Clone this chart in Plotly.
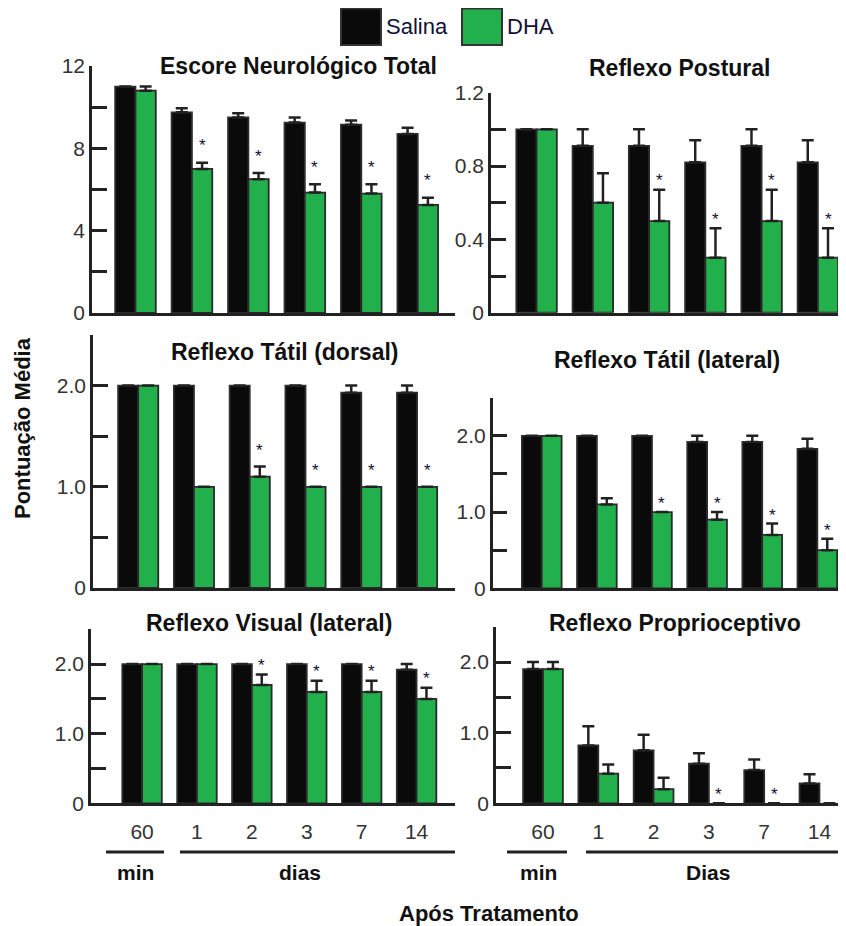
import plotly.graph_objects as go

PAGE_W, PAGE_H = 846, 926
OFF = 8  # default page body margin
W, H = PAGE_W - OFF, PAGE_H - OFF
FONT = "Liberation Sans, Arial, Helvetica, sans-serif"
BLACK = "#0a0a0a"
GREEN = "#21b04b"
DARK = "#222222"

categories = ["60", "1", "2", "3", "7", "14"]

titles = ["Escore Neurológico Total", "Reflexo Postural", "Reflexo Tátil (dorsal)",
          "Reflexo Tátil (lateral)", "Reflexo Visual (lateral)", "Reflexo Proprioceptivo"]

# Escore Neurológico Total
neuro_salina = [11.0, 9.75, 9.5, 9.25, 9.15, 8.7]
neuro_salina_err = [0, 0.2, 0.2, 0.25, 0.2, 0.3]
neuro_dha = [10.8, 7.0, 6.5, 5.85, 5.8, 5.25]
neuro_dha_err = [0.2, 0.3, 0.3, 0.4, 0.45, 0.35]
neuro_sig = [0, 1, 1, 1, 1, 1]

# Reflexo Postural
post_salina = [1.0, 0.91, 0.91, 0.82, 0.91, 0.82]
post_salina_err = [0, 0.09, 0.09, 0.12, 0.09, 0.12]
post_dha = [1.0, 0.6, 0.5, 0.3, 0.5, 0.3]
post_dha_err = [0, 0.16, 0.17, 0.16, 0.17, 0.16]
post_sig = [0, 0, 1, 1, 1, 1]

# Reflexo Tátil (dorsal)
dors_salina = [2.0, 2.0, 2.0, 2.0, 1.93, 1.93]
dors_salina_err = [0, 0, 0, 0, 0.07, 0.07]
dors_dha = [2.0, 1.0, 1.1, 1.0, 1.0, 1.0]
dors_dha_err = [0, 0, 0.1, 0, 0, 0]
dors_sig = [0, 0, 1, 1, 1, 1]

# Reflexo Tátil (lateral)
lat_salina = [2.0, 2.0, 2.0, 1.92, 1.92, 1.83]
lat_salina_err = [0, 0, 0, 0.08, 0.08, 0.13]
lat_dha = [2.0, 1.1, 1.0, 0.9, 0.7, 0.5]
lat_dha_err = [0, 0.08, 0, 0.1, 0.15, 0.15]
lat_sig = [0, 0, 1, 1, 1, 1]

# Reflexo Visual (lateral)
vis_salina = [2.0, 2.0, 2.0, 2.0, 2.0, 1.92]
vis_salina_err = [0, 0, 0, 0, 0, 0.08]
vis_dha = [2.0, 2.0, 1.7, 1.6, 1.6, 1.5]
vis_dha_err = [0, 0, 0.15, 0.16, 0.16, 0.16]
vis_sig = [0, 0, 1, 1, 1, 1]

# Reflexo Proprioceptivo
prop_salina = [1.9, 0.82, 0.75, 0.56, 0.47, 0.28]
prop_salina_err = [0.1, 0.27, 0.22, 0.15, 0.15, 0.13]
prop_dha = [1.9, 0.42, 0.2, 0, 0, 0]
prop_dha_err = [0.1, 0.13, 0.16, 0, 0, 0]
prop_sig = [0, 0, 0, 1, 1, 0]

y_max = [12, 1.2, 2.5, 2.5, 2.5, 2.5]
y_tickvals = [[0, 2, 4, 6, 8, 10, 12], [0, 0.2, 0.4, 0.6, 0.8, 1.0, 1.2],
              [0, 0.5, 1.0, 1.5, 2.0, 2.5], [0, 0.5, 1.0, 1.5, 2.0, 2.5],
              [0, 0.5, 1.0, 1.5, 2.0, 2.5], [0, 0.5, 1.0, 1.5, 2.0, 2.5]]
y_ticktext = [["0", "", "4", "", "8", "", "12"], ["0", "", "0.4", "", "0.8", "", "1.2"],
              ["0", "", "1.0", "", "2.0", ""], ["0", "", "1.0", "", "2.0", ""],
              ["0", "", "1.0", "", "2.0", ""], ["0", "", "1.0", "", "2.0", ""]]

panels = [
    (neuro_salina, neuro_salina_err, neuro_dha, neuro_dha_err, neuro_sig),
    (post_salina, post_salina_err, post_dha, post_dha_err, post_sig),
    (dors_salina, dors_salina_err, dors_dha, dors_dha_err, dors_sig),
    (lat_salina, lat_salina_err, lat_dha, lat_dha_err, lat_sig),
    (vis_salina, vis_salina_err, vis_dha, vis_dha_err, vis_sig),
    (prop_salina, prop_salina_err, prop_dha, prop_dha_err, prop_sig),
]

# layout geometry (page pixels): x0, x1, y_top, y_bottom, x-range
geom = [
    (92, 455, 66, 313, (-0.77, 5.66)),
    (491, 846, 92.7, 312.7, (-0.81, 5.5)),
    (93, 455, 335, 588, (-0.81, 5.68)),
    (492.7, 846, 397.7, 588.3, (-0.89, 5.52)),
    (91, 455, 629.3, 803.3, (-0.93, 5.7)),
    (496, 846, 626.7, 803.3, (-0.85, 5.48)),
]
title_pos = [(298, 66), (680, 68), (284, 352), (667, 360), (269, 623), (675, 623)]
star_shift = [21, 13, 20, 12.5, 13.5, 12.5]

BARGAP = 0.28
green_offset = (1 - BARGAP) / 4

def px(x):
    return (x - OFF) / W

def py(y):
    return 1 - (y - OFF) / H

def err_up(errs):
    return [e if e > 0 else None for e in errs]

def err_down(errs):
    return [0 if e > 0 else None for e in errs]

def outline(vals, w=1.8):
    return [w if v > 0 else 0 for v in vals]

def visible(vals):
    return [1 if v > 0 else 0 for v in vals]

xpos = list(range(len(categories)))

fig = go.Figure()
annotations = []
shapes = []

for i, (sal, sal_e, dha, dha_e, sig) in enumerate(panels):
    n = i + 1
    xa = "x" if n == 1 else f"x{n}"
    ya = "y" if n == 1 else f"y{n}"
    fig.add_trace(go.Bar(
        x=xpos, y=sal, name="Salina", xaxis=xa, yaxis=ya, showlegend=False,
        marker=dict(color=BLACK, opacity=visible(sal),
                    line=dict(color="#2e2e2e", width=outline(sal))),
        error_y=dict(type="data", array=err_up(sal_e), arrayminus=err_down(sal_e),
                     symmetric=False, color=DARK, thickness=2.5, width=6),
        offsetgroup="s",
    ))
    fig.add_trace(go.Bar(
        x=xpos, y=dha, name="DHA", xaxis=xa, yaxis=ya, showlegend=False,
        marker=dict(color=GREEN, opacity=visible(dha),
                    line=dict(color="#2a2a2a", width=outline(dha))),
        error_y=dict(type="data", array=err_up(dha_e), arrayminus=err_down(dha_e),
                     symmetric=False, color=DARK, thickness=2.5, width=6),
        offsetgroup="d",
    ))
    x0, x1, yt, yb, xr = geom[i]
    bottom = i >= 4
    fig.layout[("xaxis" if n == 1 else f"xaxis{n}")] = dict(
        domain=[px(x0), min(1, px(x1))], range=list(xr), anchor=ya,
        showline=True, linewidth=2.5, linecolor=DARK, showgrid=False, zeroline=False,
        tickvals=xpos, ticktext=categories, showticklabels=bottom,
        ticks="outside" if bottom else "", ticklen=8, tickcolor="rgba(0,0,0,0)",
        tickfont=dict(family=FONT, size=21, color="#333333"),
    )
    fig.layout[("yaxis" if n == 1 else f"yaxis{n}")] = dict(
        domain=[py(yb), py(yt)], range=[0, y_max[i]], anchor=xa,
        showline=True, linewidth=2.5, linecolor=DARK, showgrid=False, zeroline=False,
        tickvals=y_tickvals[i], ticktext=y_ticktext[i],
        ticks="inside", ticklen=15, tickwidth=2.5, tickcolor=DARK,
        tickfont=dict(family=FONT, size=21, color="#333333"),
    )
    tx, ty = title_pos[i]
    annotations.append(dict(
        text=f"<b>{titles[i]}</b>", x=px(tx), y=py(ty), xref="paper", yref="paper",
        showarrow=False, xanchor="center", yanchor="middle",
        font=dict(family=FONT, size=23, color="#111111"),
    ))
    for k, s in enumerate(sig):
        if s:
            annotations.append(dict(
                text="*", x=xpos[k] + green_offset, y=dha[k] + dha_e[k], xref=xa, yref=ya,
                showarrow=False, xanchor="center", yanchor="middle", yshift=star_shift[i] - 4,
                font=dict(family=FONT, size=17, color="#111133"),
            ))

# legend
for (lx, color, label) in [(341, BLACK, "Salina"), (462, GREEN, "DHA")]:
    shapes.append(dict(type="rect", xref="paper", yref="paper", x0=px(lx), x1=px(lx + 40),
                       y0=py(45), y1=py(8.5), fillcolor=color, line=dict(color="#333333", width=2)))
    annotations.append(dict(text=label, x=px(lx + 43), y=py(26), xref="paper", yref="paper",
                            showarrow=False, xanchor="left", yanchor="middle",
                            font=dict(family=FONT, size=22, color="#111133")))

# bottom group lines and labels
for (a, b, label, cx) in [(106, 164, "min", 135), (180, 455, "dias", 300),
                          (507, 567, "min", 538), (586, 846, "Dias", 708)]:
    shapes.append(dict(type="line", xref="paper", yref="paper", x0=px(a), x1=min(1, px(b)),
                       y0=py(852), y1=py(852), line=dict(color=DARK, width=3)))
    annotations.append(dict(text=f"<b>{label}</b>", x=px(cx), y=py(872), xref="paper", yref="paper",
                            showarrow=False, xanchor="center", yanchor="middle",
                            font=dict(family=FONT, size=21, color="#111111")))

annotations.append(dict(text="<b>Após Tratamento</b>", x=px(489), y=py(913), xref="paper", yref="paper",
                        showarrow=False, xanchor="center", yanchor="middle",
                        font=dict(family=FONT, size=22, color="#111111")))
annotations.append(dict(text="<b>Pontuação Média</b>", x=px(23), y=py(428), xref="paper", yref="paper",
                        showarrow=False, xanchor="center", yanchor="middle", textangle=-90,
                        font=dict(family=FONT, size=22, color="#111111")))

fig.update_layout(
    width=W, height=H, margin=dict(l=0, r=0, t=0, b=0, pad=0, autoexpand=False),
    paper_bgcolor="white", plot_bgcolor="white",
    barmode="group", bargap=BARGAP, bargroupgap=0,
    annotations=annotations, shapes=shapes, showlegend=False,
)

fig.write_html("out.html")
